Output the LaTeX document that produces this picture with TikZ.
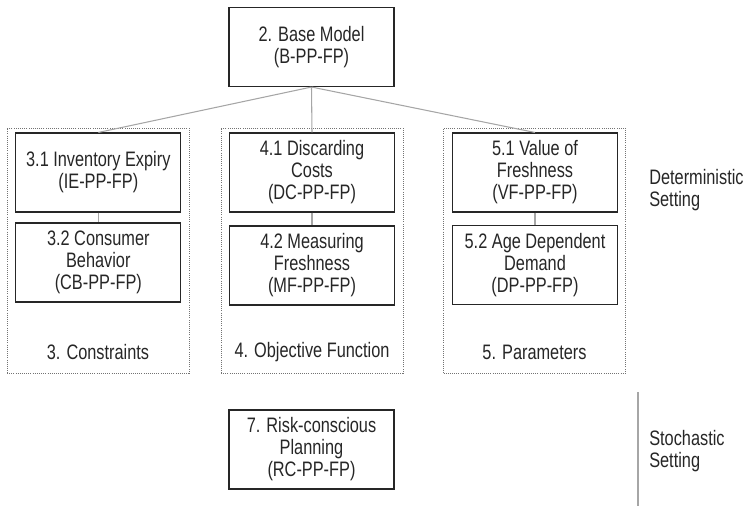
\documentclass[tikz,border=0pt]{standalone}
\usepackage{fontspec}
\setmainfont{Liberation Sans}[FakeStretch=0.78]
\usepackage{tikz}
\usetikzlibrary{positioning}

\begin{document}
\begin{tikzpicture}[
    x=0.75pt, y=-0.75pt,
    font=\fontsize{15.7}{16.5}\selectfont,
    box/.style={draw=black!85, line width=0.8pt, minimum width=123.75pt,
                minimum height=59.25pt, align=center, inner sep=0pt, text=black!85},
    group/.style={draw=black!55, densely dotted, line width=0.6pt,
                  minimum width=136.5pt, minimum height=183.75pt, inner sep=0pt},
    link/.style={draw=black!35, line width=0.8pt},
    side/.style={align=left, anchor=west, inner sep=0pt, text=black!85}
  ]
  \useasboundingbox (0,0) rectangle (744,506);
  % Dotted groups
  \node[group] (g3) at (98,250.5) {};
  \node[group] (g4) at (312,250.5) {};
  \node[group] (g5) at (534.5,250.5) {};
  % Group titles
  \node[text=black!85] (t3) at (98,352) {3. Constraints};
  \node[text=black!85] (t4) at (312,352) {4. Objective Function};
  \node[text=black!85] (t5) at (534.5,352) {5. Parameters};
  % Base model
  \node[box] (base) at (311.5,47) {2. Base Model\\(B-PP-FP)};
  % Boxes inside the groups
  \node[box] (ie) at (98.3,172.5) {3.1 Inventory Expiry\\(IE-PP-FP)};
  \node[box] (cb) at (98.3,262.5) {3.2 Consumer\\Behavior\\(CB-PP-FP)};
  \node[box] (dc) at (312,172.5) {4.1 Discarding\\Costs\\(DC-PP-FP)};
  \node[box] (mf) at (312,265.5) {4.2 Measuring\\Freshness\\(MF-PP-FP)};
  \node[box] (vf) at (535,172.5) {5.1 Value of\\Freshness\\(VF-PP-FP)};
  \node[box] (dp) at (535,265) {5.2 Age Dependent\\Demand\\(DP-PP-FP)};
  % Stochastic model
  \node[box] (rc) at (311.5,449.5) {7. Risk-conscious\\Planning\\(RC-PP-FP)};
  % Links
  \draw[link] (base.south) -- (ie.north);
  \draw[link] (base.south) -- (dc.north);
  \draw[link] (base.south) -- (vf.north);
  \draw[link] (ie.south) -- (cb.north);
  \draw[link] (dc.south) -- (mf.north);
  \draw[link] (vf.south) -- (dp.north);
  % Settings
  \node[side] (det) at (649,190) {Deterministic\\Setting};
  \node[side] (sto) at (649,451) {Stochastic\\Setting};
  \coordinate (sep1) at (638,392);
  \coordinate (sep2) at (638,506);
  \draw[link] (sep1) -- (sep2);
\end{tikzpicture}
\end{document}
